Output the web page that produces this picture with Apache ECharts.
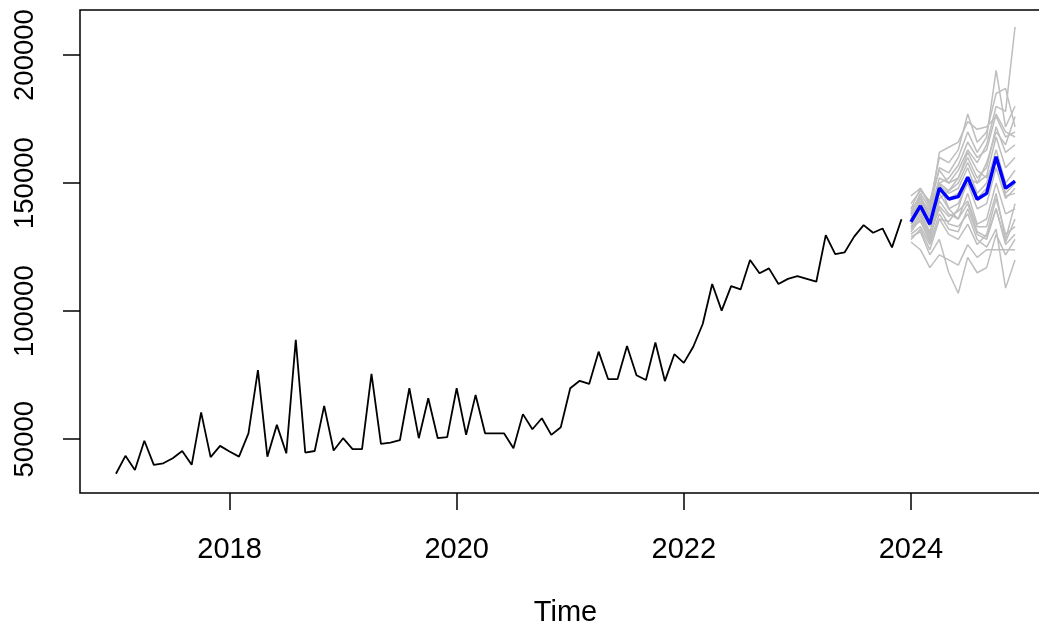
<!DOCTYPE html>
<html>
<head>
<meta charset="utf-8">
<script src="https://cdn.jsdelivr.net/npm/echarts@6/dist/echarts.min.js"></script>
<style>
html, body { margin: 0; padding: 0; background: #fff; overflow: hidden; width: 1039px; height: 628px; }
#chart { width: 1060px; height: 628px; }
</style>
</head>
<body>
<div id="chart"></div>
<script>
// Observed monthly series, Jan 2017 .. Dec 2023
const startYear = 2017;
const observed = [
  36500, 43500, 38000, 49400, 40000, 40600, 42600, 45400, 40000, 60500, 43000, 47400,
  45200, 43200, 52300, 77000, 43200, 55600, 44500, 88800, 44800, 45400, 63000, 45600,
  50400, 46100, 46100, 75500, 48200, 48700, 49600, 69900, 50400, 66000, 50400, 50800,
  69900, 51700, 67300, 52300, 52300, 52300, 46500, 59800, 53900, 58200, 51700, 54700,
  69900, 72800, 71600, 84200, 73500, 73500, 86400, 75000, 73100, 87800, 72700, 83200,
  79800, 86100, 95000, 110600, 100200, 109800, 108500, 120000, 114800, 116700, 110600, 112600,
  113700, 112600, 111500, 129700, 122300, 123000, 129100, 133600, 130600, 132300, 124900, 135900
];
// Forecast mean, Jan 2024 .. Dec 2024
const forecastStartYear = 2024;
const forecastMean = [134900, 141100, 134000, 148000, 143800, 144700, 152300, 143700, 146000, 160300, 148000, 150800];
// Simulated future sample paths, Jan 2024 .. Dec 2024
const sim01 = [136000, 142000, 138000, 152000, 150000, 155000, 163000, 158000, 165000, 180000, 178000, 211000];
const sim02 = [138000, 146000, 140000, 156000, 154000, 160000, 170000, 162000, 168000, 194000, 172000, 180000];
const sim03 = [140000, 148000, 142000, 160000, 158000, 163000, 177000, 166000, 170000, 185000, 187000, 172000];
const sim04 = [137000, 144000, 139000, 162000, 164000, 166000, 174000, 171000, 172000, 176000, 168000, 170000];
const sim05 = [133000, 138000, 130000, 140000, 134000, 133000, 138000, 128000, 125000, 132000, 109000, 120000];
const sim06 = [129000, 131000, 122000, 128000, 115000, 107000, 121000, 115000, 117000, 130000, 122000, 128000];
const sim07 = [127000, 124000, 117000, 122000, 120000, 118000, 126000, 121000, 124000, 124000, 124000, 124000];
const sim08 = [135000, 140000, 133000, 146000, 140000, 142000, 150000, 140000, 142000, 156000, 144000, 148000];
const sim09 = [131000, 136000, 128000, 143000, 138000, 136000, 146000, 134000, 136000, 150000, 138000, 140000];
const sim10 = [139000, 145000, 137000, 150000, 147000, 150000, 158000, 150000, 153000, 168000, 156000, 160000];
const sim11 = [134000, 139000, 131000, 144000, 147000, 152000, 162000, 155000, 152000, 160000, 146000, 150000];
const sim12 = [142000, 147000, 143000, 155000, 150000, 152000, 160000, 152000, 156000, 172000, 162000, 165000];
const sim13 = [130000, 133000, 126000, 136000, 130000, 128000, 134000, 126000, 130000, 144000, 130000, 133000];
const sim14 = [136000, 143000, 135000, 149000, 146000, 148000, 156000, 146000, 150000, 163000, 150000, 155000];
const sim15 = [132000, 137000, 129000, 141000, 137000, 139000, 143000, 133000, 133000, 146000, 128000, 142000];
const sim16 = [145000, 148000, 141000, 150000, 140000, 136000, 142000, 131000, 129000, 140000, 127000, 136000];
const sim17 = [133000, 135000, 127000, 138000, 132000, 131000, 140000, 130000, 128000, 140000, 126000, 130000];
const sim18 = [138000, 141000, 135000, 150000, 152000, 157000, 166000, 160000, 163000, 177000, 170000, 168000];
const sim19 = [128000, 132000, 124000, 136000, 135000, 140000, 152000, 150000, 158000, 170000, 165000, 176000];
const sim20 = [140000, 144000, 136000, 147000, 144000, 146000, 152000, 144000, 148000, 160000, 145000, 146000];
const simPaths = [sim01, sim02, sim03, sim04, sim05, sim06, sim07, sim08, sim09, sim10,
                  sim11, sim12, sim13, sim14, sim15, sim16, sim17, sim18, sim19, sim20];
// Axis ticks
const xTicks = [2018, 2020, 2022, 2024];
const yTicks = [50000, 100000, 150000, 200000];
const xName = 'Time';

function toPairs(values, y0) {
  return values.map((v, i) => [y0 + i / 12, v]);
}

const FONT = '"Liberation Sans", Arial, sans-serif';
const series = [];
simPaths.forEach((p, k) => {
  series.push({
    type: 'line', name: 'sim' + (k + 1), data: toPairs(p, forecastStartYear),
    showSymbol: false, symbol: 'none', silent: true, animation: false,
    lineStyle: { color: '#bebebe', width: 1.5 }, z: 2
  });
});
series.push({
  type: 'line', name: 'mean', data: toPairs(forecastMean, forecastStartYear),
  showSymbol: false, symbol: 'none', animation: false,
  lineStyle: { color: '#0000ff', width: 3.4 }, z: 4
});
series.push({
  type: 'line', name: 'observed', data: toPairs(observed, startYear),
  showSymbol: false, symbol: 'none', animation: false,
  lineStyle: { color: '#000000', width: 1.8 }, z: 3
});

const chart = echarts.init(document.getElementById('chart'), null, { renderer: 'canvas' });
chart.setOption({
  animation: false,
  backgroundColor: '#ffffff',
  grid: {
    left: 80, top: 10, width: 971, height: 483,
    outerBoundsMode: 'none',
    show: true, borderColor: '#000', borderWidth: 1.5, backgroundColor: 'transparent',
    containLabel: false
  },
  xAxis: {
    type: 'value', min: 2016.6833, max: 2025.2333,
    name: xName, nameLocation: 'middle', nameGap: 105,
    nameTextStyle: { fontFamily: FONT, fontSize: 29, color: '#000', lineHeight: 29 },
    axisLine: { show: false },
    splitLine: { show: false },
    axisTick: { show: true, length: 17, customValues: xTicks, lineStyle: { color: '#000', width: 1.5 } },
    axisLabel: { show: true, customValues: xTicks, margin: 42, fontFamily: FONT, fontSize: 29, lineHeight: 29, color: '#000',
      formatter: v => String(Math.round(v)) }
  },
  yAxis: {
    type: 'value', min: 29000, max: 217600,
    axisLine: { show: false },
    splitLine: { show: false },
    axisTick: { show: true, length: 17, customValues: yTicks, lineStyle: { color: '#000', width: 1.5 } },
    axisLabel: { show: true, customValues: yTicks, rotate: 90, margin: 41, fontFamily: FONT, fontSize: 27.5, lineHeight: 27.5, color: '#000',
      formatter: v => String(Math.round(v)) }
  },
  series: series
});
</script>
</body>
</html>
